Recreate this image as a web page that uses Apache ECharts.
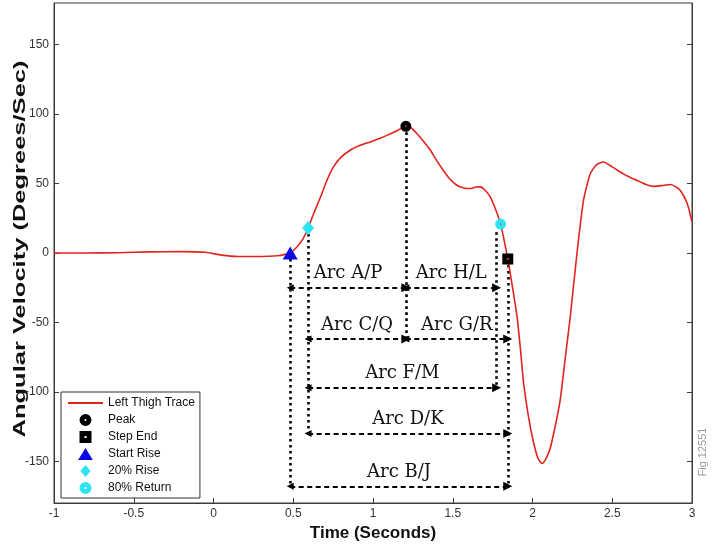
<!DOCTYPE html>
<html>
<head>
<meta charset="utf-8">
<title>Left Thigh Trace</title>
<script src="https://cdn.jsdelivr.net/npm/echarts@6/dist/echarts.min.js"></script>
<style>
  html, body { margin: 0; padding: 0; background: #fff; }
  #main { width: 714px; height: 546px; }
</style>
</head>
<body>
<div id="main"></div>
<script>
// left thigh trace: time (s) / angular velocity (deg/s)
var traceTime = [-1.0, -0.8, -0.6, -0.4, -0.2, -0.05, 0.05, 0.15, 0.3, 0.4, 0.45, 0.48,
  0.52, 0.56, 0.593, 0.63, 0.67, 0.71, 0.752, 0.8, 0.857, 0.92, 0.982, 1.04, 1.087,
  1.15, 1.206, 1.24, 1.275, 1.32, 1.36, 1.4, 1.44, 1.48, 1.526, 1.57, 1.61, 1.645,
  1.673, 1.7, 1.735, 1.77, 1.8, 1.845, 1.875, 1.903, 1.925, 1.944, 1.975, 2.007,
  2.035, 2.06, 2.085, 2.11, 2.14, 2.174, 2.205, 2.237, 2.279, 2.32, 2.362, 2.4,
  2.446, 2.5, 2.57, 2.62, 2.676, 2.72, 2.76, 2.81, 2.865, 2.9, 2.927, 2.97, 3.0];
var traceVel = [0, 0, 0.2, 0.8, 1, 0.5, -1.5, -2.5, -2.5, -2, -1, 0,
  4, 10, 18, 29, 40, 52, 62, 69, 74, 77.5, 80, 82.5, 84.7,
  88, 91.2, 90, 86, 80, 74, 66.5, 59.6, 53.5, 48.8, 46.8, 46.4, 47.5,
  47.6, 45.5, 40.4, 31, 20.8, -4.3, -25, -45.7, -70, -93.5, -118, -136.6,
  -148, -151.5, -148, -141, -126, -105.5, -76, -45.7, 0, 38, 57, 63.5,
  65.5, 62, 57, 54, 51.2, 49, 48, 48.5, 49.3, 47.5, 45, 35.7, 22.5];

// gait events
var eventNames = ['Peak', 'Step End', 'Start Rise', '20% Rise', '80% Return'];
var eventTime = [1.206, 1.845, 0.481, 0.593, 1.8];
var eventVel = [91.2, -4.3, 0, 18, 20.8];

// dotted guides dropped from the events
var guideTime = [0.481, 0.593, 1.206, 1.775, 1.845];
var guideTop = [0, 18, 91.2, 15, -4.3];
var guideBottom = [-168, -130, -62, -97, -168];

// arcs between events
var arcNames = ['Arc A/P', 'Arc H/L', 'Arc C/Q', 'Arc G/R', 'Arc F/M', 'Arc D/K', 'Arc B/J'];
var arcStart = [0.481, 1.206, 0.593, 1.206, 0.593, 0.593, 0.481];
var arcEnd = [1.206, 1.775, 1.206, 1.845, 1.775, 1.845, 1.845];
var arcLevel = [-25, -25, -62, -62, -97, -130, -168];

var yTicks = [-150, -100, -50, 0, 50, 100, 150];

var chart = echarts.init(document.getElementById('main'));

var fontSans = '"Liberation Sans", Arial, sans-serif';
var axisColor = '#3c3c3c';

// matlab-like marker shapes (rings keep a small hole in the middle)
var ringPath = 'path://M0,6a6,6 0 1,1 12,0a6,6 0 1,1 -12,0z M5,6a1,1 0 1,0 2,0a1,1 0 1,0 -2,0z';
var boxPath = 'path://M0,0h12v12h-12z M5,5v2h2v-2z';
var triPath = 'path://M8,0L16,13L0,13z';
var diamondPath = 'path://M6,0L12,7L6,14L0,7z';
var tracePath = 'path://M0,0h35v2h-35z';

function eventPoint(i) {
  return [[eventTime[i], eventVel[i]]];
}

var option = {
  animation: false,
  backgroundColor: '#fff',
  grid: {
    left: 54, right: 22, top: 3, bottom: 43,
    outerBoundsMode: 'none',
    containLabel: false,
    show: true, borderColor: axisColor, borderWidth: 1, backgroundColor: '#fff'
  },
  legend: {
    orient: 'vertical',
    left: 61, top: 392,
    padding: [5, 5, 4, 7],
    itemGap: 5,
    itemWidth: 35,
    itemHeight: 12,
    symbolKeepAspect: true,
    backgroundColor: '#fff',
    borderColor: '#333',
    borderWidth: 1,
    borderRadius: 0,
    textStyle: { fontFamily: fontSans, fontSize: 12, color: '#111' },
    data: [{ name: 'Left Thigh Trace', icon: tracePath }].concat(eventNames)
  },
  xAxis: {
    type: 'value',
    min: -1, max: 3, interval: 0.5,
    name: 'Time (Seconds)',
    nameLocation: 'middle',
    nameGap: 19,
    nameTextStyle: { fontFamily: fontSans, fontSize: 17, fontWeight: 'bold', color: '#111' },
    axisLine: { onZero: false, lineStyle: { color: axisColor } },
    axisTick: { inside: true, length: 5, lineStyle: { color: axisColor } },
    axisLabel: { margin: 5, fontFamily: fontSans, fontSize: 12, color: '#333' },
    splitLine: { show: false }
  },
  yAxis: [{
    type: 'value',
    min: -180, max: 180,
    axisLine: { onZero: false, lineStyle: { color: axisColor } },
    axisTick: { inside: true, length: 5, customValues: yTicks, lineStyle: { color: axisColor } },
    axisLabel: { margin: 5, customValues: yTicks, fontFamily: fontSans, fontSize: 12, color: '#333' },
    splitLine: { show: false }
  }, {
    type: 'value',
    position: 'right',
    min: -180, max: 180,
    axisLine: { show: true, onZero: false, lineStyle: { color: axisColor } },
    axisTick: { inside: true, length: 5, customValues: yTicks, lineStyle: { color: axisColor } },
    axisLabel: { show: false },
    splitLine: { show: false }
  }],
  graphic: [{
    // y axis title, stretched along its length like the source figure
    type: 'text',
    x: 20, y: 249,
    rotation: Math.PI / 2,
    scaleX: 1.5,
    style: {
      text: 'Angular Velocity (Degrees/Sec)', x: 0, y: 0, align: 'center', verticalAlign: 'middle',
      fill: '#111', font: 'bold 17px "Liberation Sans", Arial, sans-serif'
    }
  }, {
    type: 'text',
    x: 703, y: 452,
    rotation: Math.PI / 2,
    style: {
      text: 'Fig 12551', x: 0, y: 0, align: 'center', verticalAlign: 'middle',
      fill: '#9a9a9a', font: '11px "Liberation Sans", Arial, sans-serif'
    }
  }],
  series: [
    {
      name: 'Left Thigh Trace',
      type: 'line',
      data: traceTime.map(function (t, i) { return [t, traceVel[i]]; }),
      showSymbol: false,
      symbol: 'none',
      smooth: 0.2,
      color: '#e3231d',
      itemStyle: { color: '#e3231d' },
      lineStyle: { width: 1.6, color: '#e3231d' },
      z: 3
    },
    {
      type: 'lines',
      coordinateSystem: 'cartesian2d',
      symbol: 'none',
      silent: true,
      lineStyle: { color: '#000', width: 2.6, type: [2.6, 3.4], opacity: 1 },
      data: guideTime.map(function (t, i) {
        return { coords: [[t, guideTop[i]], [t, guideBottom[i]]] };
      }),
      z: 2
    },
    {
      type: 'lines',
      coordinateSystem: 'cartesian2d',
      symbol: ['triangle', 'triangle'],
      symbolSize: [7, 9],
      silent: true,
      lineStyle: { color: '#000', width: 1.8, type: [5, 3.5], opacity: 1 },
      label: {
        show: true, position: 'middle', formatter: '{b}', distance: 5,
        fontFamily: '"DejaVu Serif", serif', fontSize: 18, color: '#111'
      },
      data: arcNames.map(function (n, i) {
        return { name: n, coords: [[arcStart[i], arcLevel[i]], [arcEnd[i], arcLevel[i]]] };
      }),
      z: 2
    },
    {
      name: 'Peak', type: 'scatter', data: eventPoint(0),
      symbol: ringPath, symbolSize: 11,
      itemStyle: { color: '#000', opacity: 1 }, z: 5
    },
    {
      name: 'Step End', type: 'scatter', data: eventPoint(1),
      symbol: boxPath, symbolSize: 11,
      itemStyle: { color: '#000', opacity: 1 }, z: 5
    },
    {
      name: 'Start Rise', type: 'scatter', data: eventPoint(2),
      symbol: triPath, symbolSize: [15, 13],
      itemStyle: { color: '#0a0ae6', opacity: 1 }, z: 5
    },
    {
      name: '20% Rise', type: 'scatter', data: eventPoint(3),
      symbol: diamondPath, symbolSize: [12, 14],
      itemStyle: { color: '#2ee4f0', opacity: 1 }, z: 5
    },
    {
      name: '80% Return', type: 'scatter', data: eventPoint(4),
      symbol: ringPath, symbolSize: 11,
      itemStyle: { color: '#2ee4f0', opacity: 1 }, z: 5
    }
  ]
};

chart.setOption(option);
</script>
</body>
</html>
